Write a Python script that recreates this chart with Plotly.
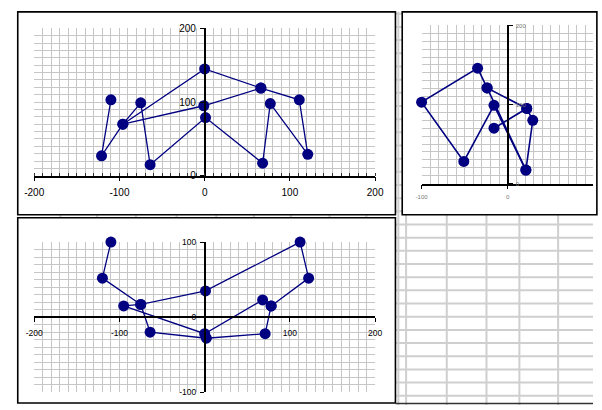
import plotly.graph_objects as go

# ---- data -------------------------------------------------------------
# original outline (top-left chart)
orig_x = [-110, -121, -96, -75, -64, 1, 68, 77, 121, 111, 66, 0, -96, -1, 66]
orig_y = [103, 27, 70, 99, 15, 79, 17, 98, 29, 103, 119, 145, 70, 95, 119]

# rotated outline (top-right chart); None breaks the line
rot_x = [-16, 22, 29, 21, -16, -51, -100, -35, -24, 22, None, -24, 21]
rot_y = [70, 95, 80, 17, 99, 28, 103, 146, 121, 95, None, 121, 17]

# transformed outline (bottom-left chart)
trans_x = [-110, -120, -75, -95, 0, 68, 78, 122, 112, 1, -75, -64, 2, 71, 78]
trans_y = [100, 52, 17, 15, -22, 23, 15, 52, 100, 35, 17, -20, -28, -22, 15]

# tick labels
tl_xticks = [-200, -100, 0, 100, 200]
tl_xtext = ["-200", "-100", "0", "100", "200"]
tl_yticks = [0, 100, 200]
tl_ytext = ["0", "100", "200"]

tr_xticks = [-100, 0]
tr_xtext = ["-100", "0"]
tr_yticks = [0, 100, 200]
tr_ytext = ["0", "100", "200"]

bl_xticks = [-200, -100, 0, 100, 200]
bl_xtext = ["-200", "-100", "", "100", "200"]
bl_yticks = [-100, 0, 100]
bl_ytext = ["-100", "0", "100"]

# ---- helpers ----------------------------------------------------------
W, H = 602, 410


def fx(px):
    return px / W


def fy(py):
    return 1 - py / H


NAVY = "#000080"
GRID = "#c6c6c6"
FONT = "Liberation Sans, Arial, sans-serif"

fig = go.Figure()

marker = dict(symbol="circle", size=11, color=NAVY, line=dict(width=0))

fig.add_trace(go.Scatter(x=orig_x, y=orig_y, mode="lines+markers",
                         line=dict(color=NAVY, width=1.3), marker=marker,
                         cliponaxis=False,
                         xaxis="x", yaxis="y", hoverinfo="skip"))
fig.add_trace(go.Scatter(x=rot_x, y=rot_y, mode="lines+markers",
                         line=dict(color=NAVY, width=1.6), marker=marker,
                         connectgaps=False, cliponaxis=False,
                         xaxis="x2", yaxis="y2", hoverinfo="skip"))
fig.add_trace(go.Scatter(x=trans_x, y=trans_y, mode="lines+markers",
                         line=dict(color=NAVY, width=1.3), marker=marker,
                         cliponaxis=False,
                         xaxis="x3", yaxis="y3", hoverinfo="skip"))


def axis_common(size, color="black", minor_ticks=False):
    minor = dict(dtick=10, showgrid=True, gridcolor=GRID, gridwidth=1.3)
    if minor_ticks:
        minor.update(ticks="inside", ticklen=3, tickcolor="#333333", tickwidth=1)
    return dict(
        showgrid=True, gridcolor=GRID, gridwidth=1.3,
        zeroline=False, showline=True, linecolor="black", linewidth=1.5,
        ticks="outside", ticklen=4, tickcolor="black", tickwidth=1,
        tickfont=dict(family=FONT, size=size, color=color),
        tickmode="array", fixedrange=True, minor=minor,
    )


# top-left chart
fig.update_layout(
    xaxis=dict(axis_common(10, minor_ticks=True), domain=[fx(25), fx(377)],
               range=[-200, 200], anchor="y", tickvals=tl_xticks,
               ticktext=tl_xtext, ticklabelstandoff=3),
    yaxis=dict(axis_common(10), domain=[fy(175), fy(24)], range=[0, 200],
               anchor="free", position=fx(201), tickvals=tl_yticks,
               ticktext=tl_ytext, ticklabelstandoff=2),
)

# top-right chart
tr_right = (602 - 514) / 0.89
fig.update_layout(
    xaxis2=dict(axis_common(6, "#777777"), domain=[fx(425), 1.0],
                range=[-100, tr_right], anchor="y2", tickvals=tr_xticks,
                ticktext=tr_xtext, ticklabelstandoff=3),
    yaxis2=dict(axis_common(6, "#777777"), domain=[fy(183), fy(21)],
                range=[0, 200], anchor="free", position=fx(514), side="right",
                tickvals=tr_yticks, ticktext=tr_ytext, ticklabelstandoff=2),
)

# bottom-left chart
fig.update_layout(
    xaxis3=dict(axis_common(8.5), domain=[fx(25), fx(377)], range=[-200, 200],
                anchor="free", position=fy(320), tickvals=bl_xticks,
                ticktext=bl_xtext, ticklabelstandoff=4),
    yaxis3=dict(axis_common(8.5), domain=[fy(397), fy(243)],
                range=[-100, 100], anchor="free", position=fx(201),
                tickvals=bl_yticks, ticktext=bl_ytext, ticklabelstandoff=2),
)

# ---- worksheet grid and chart frames ---------------------------------
shapes = []
SHEET = "#cfcfcf"
left_cols = [52, 90, 130, 172, 213, 252, 290, 330, 368]
right_cols = [401, 409, 451, 492, 526, 566]
row_px = [225 + 13.5 * k for k in range(-16, 14)]


def line(x0, y0, x1, y1, color, width):
    return dict(type="line", xref="paper", yref="paper",
                x0=fx(x0), x1=fx(x1), y0=fy(y0), y1=fy(y1),
                line=dict(color=color, width=width), layer="below")


for c in left_cols:
    shapes.append(line(c, 213, c, 220, SHEET, 2))
for c in right_cols:
    shapes.append(line(c, 7, c, 410, SHEET, 2))
for r in row_px:
    if r > 7:
        shapes.append(line(396, r, 602, r, SHEET, 2))

frames = [(8, 7, 398, 215), (405, 7, 606, 215), (8, 218, 398, 408)]
for x0, y0, x1, y1 in frames:
    shapes.append(dict(type="rect", xref="paper", yref="paper",
                       x0=fx(x0), x1=fx(x1), y0=fy(y1), y1=fy(y0),
                       fillcolor="white", line=dict(color="black", width=1.6),
                       layer="below"))
shapes.append(line(398, 408.5, 602, 408.5, "#333333", 1.6))

fig.update_layout(
    width=W, height=H, margin=dict(l=0, r=0, t=0, b=0),
    paper_bgcolor="white", plot_bgcolor="rgba(0,0,0,0)",
    showlegend=False, shapes=shapes,
)

fig.write_html("out.html", config={"displayModeBar": False})
